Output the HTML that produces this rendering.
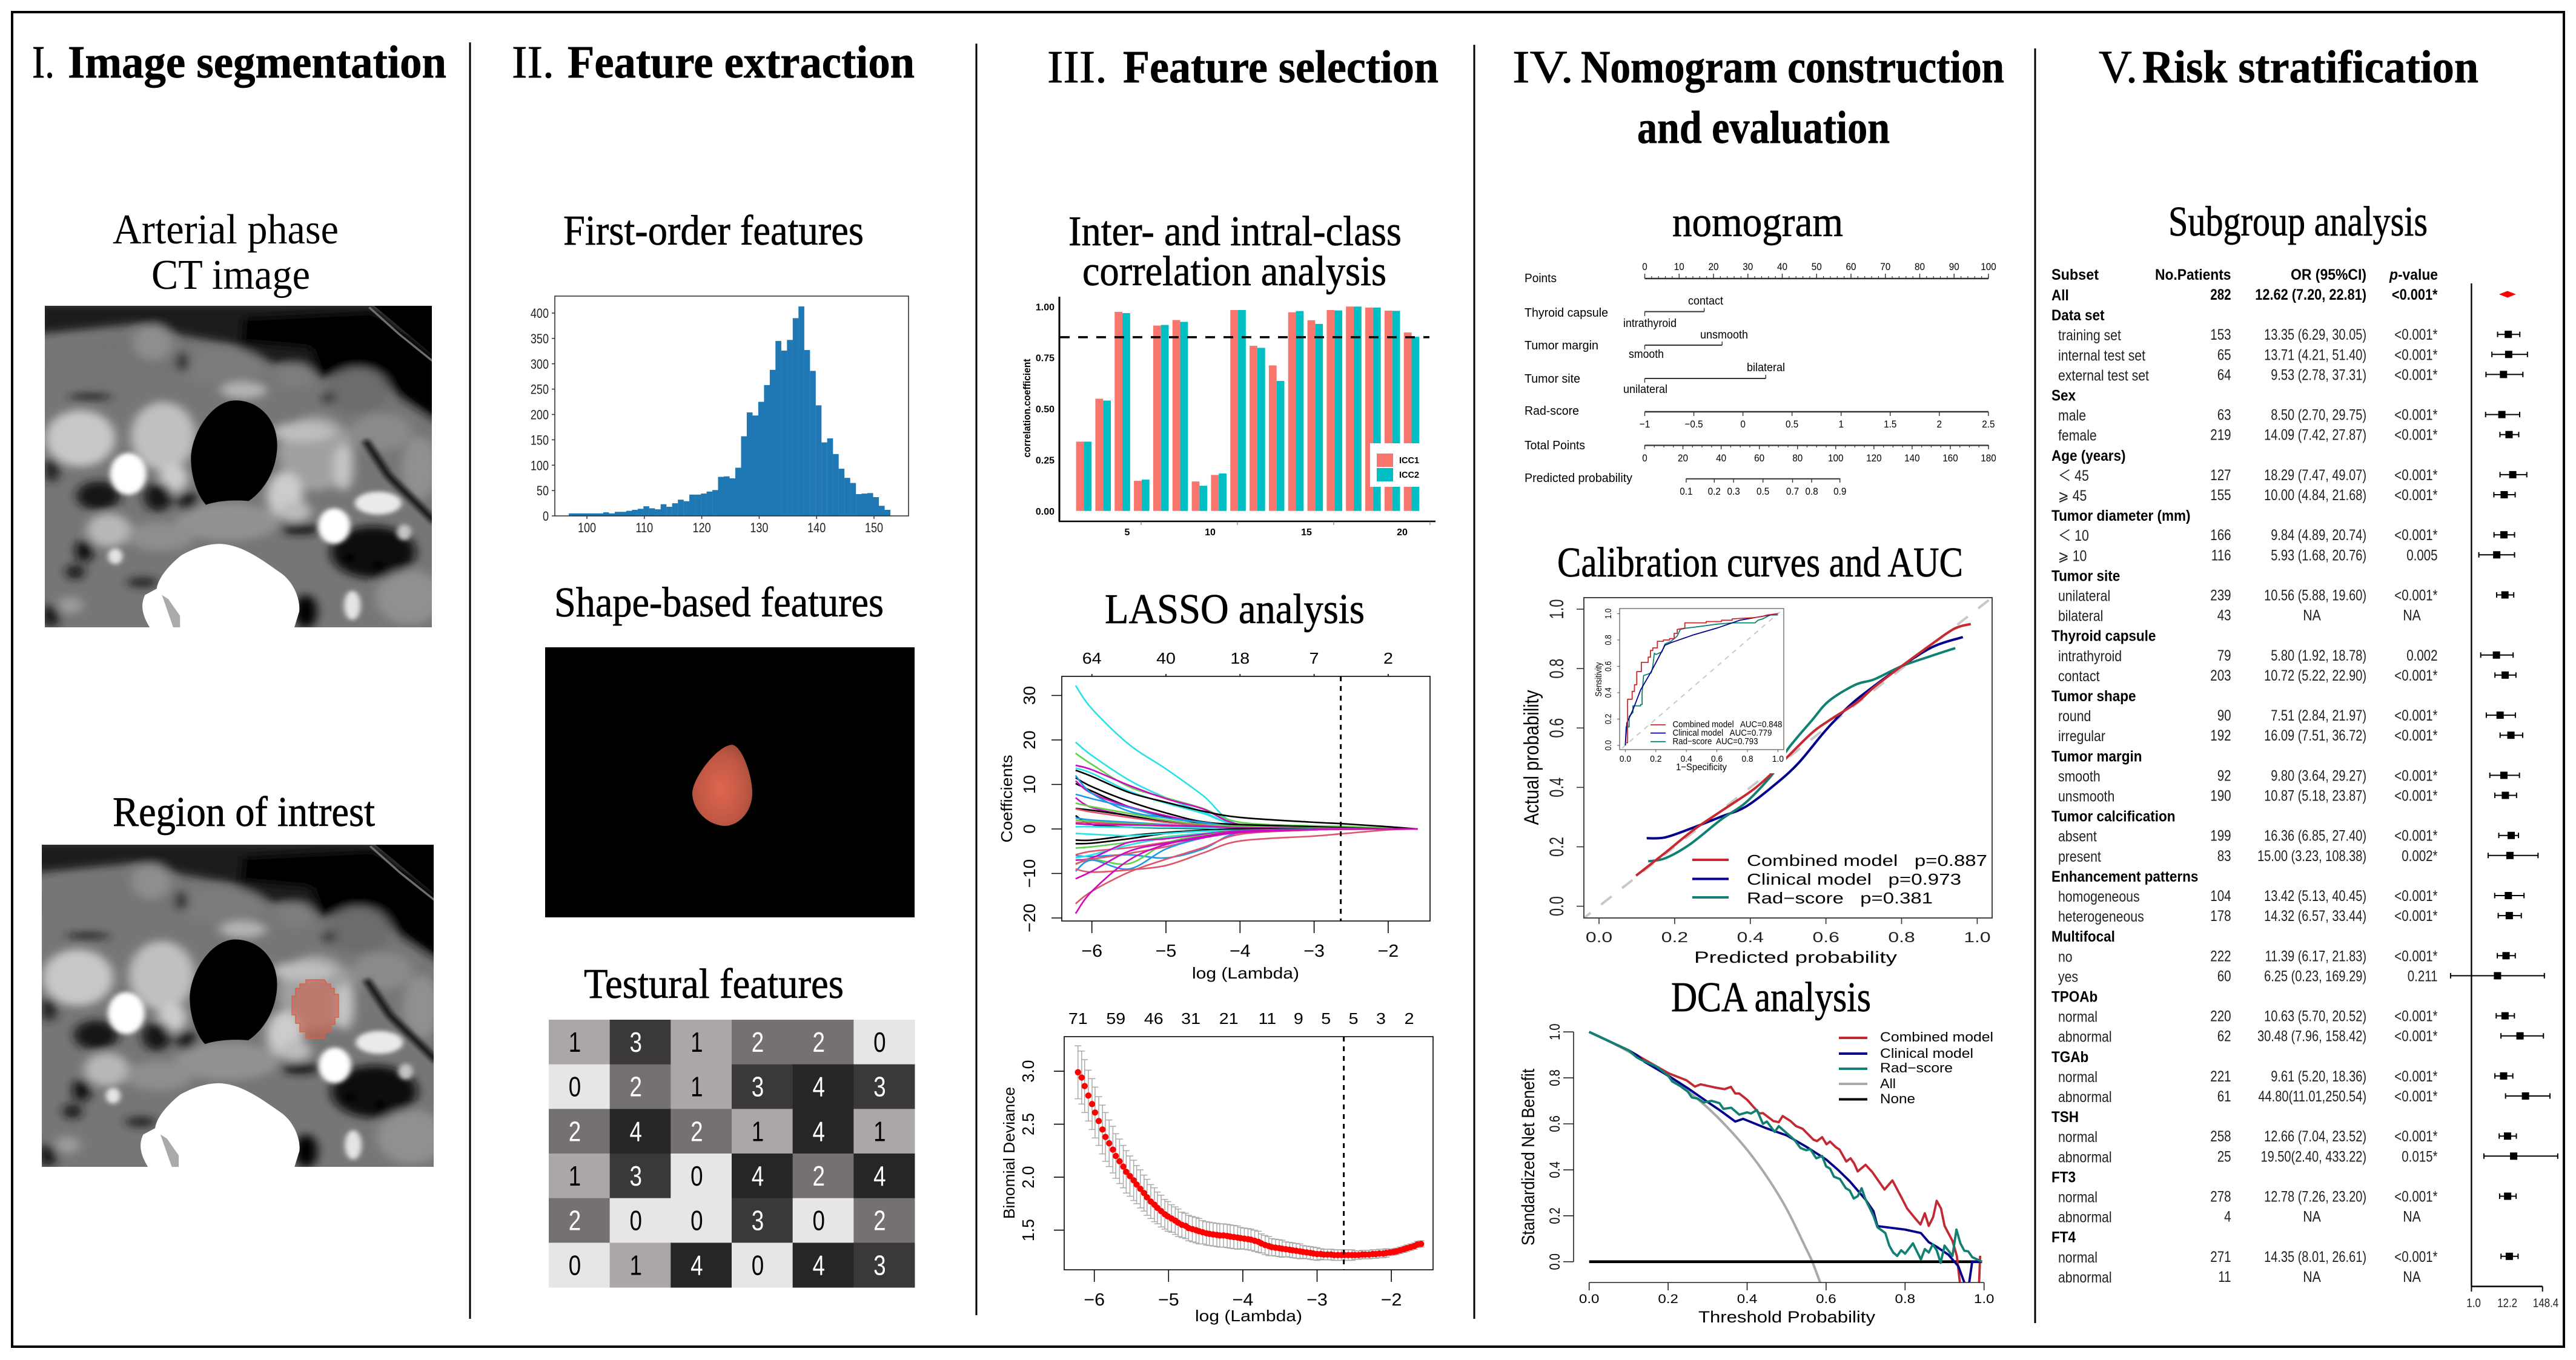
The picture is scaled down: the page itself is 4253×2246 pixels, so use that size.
<!DOCTYPE html>
<html lang="en">
<head>
<meta charset="utf-8">
<title>Radiomics workflow figure</title>
<style>
html,body{margin:0;padding:0;background:#fff;width:4253px;height:2246px;overflow:hidden}
svg{display:block}
text{font-family:"Liberation Sans","DejaVu Sans","Noto Sans CJK SC",sans-serif;fill:#000;white-space:pre}
.ttl{font-family:"Liberation Serif","Noto Serif CJK SC",serif;font-size:76px;stroke:#000;stroke-width:.7px}
.b{font-weight:700}
.sub{font-family:"Liberation Serif","Noto Serif CJK SC",serif;font-size:70px;stroke:#000;stroke-width:.7px}
.thin{stroke-width:0}
</style>
</head>
<body>
<svg id="figure" xmlns="http://www.w3.org/2000/svg" width="4253" height="2246" viewBox="0 0 4253 2246">
<defs>
<filter id="blurA" x="-20%" y="-20%" width="140%" height="140%"><feGaussianBlur stdDeviation="20"/></filter>
<filter id="blurB" x="-40%" y="-40%" width="180%" height="180%"><feGaussianBlur stdDeviation="10"/></filter>
<clipPath id="ctClip"><rect x="33" y="15" width="1494" height="1540"/></clipPath>
<radialGradient id="noduleFill" cx="0.48" cy="0.55" r="0.6"><stop offset="0" stop-color="#e0664e"/><stop offset="0.7" stop-color="#bd5743"/><stop offset="1" stop-color="#a04a38"/></radialGradient>
<clipPath id="calClip"><rect x="2615" y="987" width="674" height="529"/></clipPath>
<clipPath id="insetClip"><rect x="2674" y="1005" width="271" height="233"/></clipPath>
<clipPath id="dcaClip"><rect x="2600" y="1690" width="690" height="428"/></clipPath>
<g id="ctScan" clip-path="url(#ctClip)">
<rect x="33" y="15" width="1494" height="1540" fill="#767676"/>
<g filter="url(#blurA)">
<polygon points="0,0 1300,0 1560,260 1560,580 1400,450 1300,320 1100,350 1000,290 900,290 760,200 540,150 400,100 0,150" fill="#1e1e1e"/>
<polygon points="790,190 1060,220 1100,370 1170,330 1300,310 1420,450 1560,570 1560,250 1300,40 800,70" fill="#030303"/>
<ellipse cx="280" cy="290" rx="280" ry="105" fill="#747474"/>
<ellipse cx="450" cy="190" rx="75" ry="85" fill="#8e8e8e"/>
<ellipse cx="720" cy="305" rx="165" ry="85" fill="#7c7c7c"/>
<ellipse cx="1000" cy="350" rx="70" ry="60" fill="#7e7e7e"/>
<ellipse cx="1240" cy="420" rx="120" ry="110" fill="#6c6c6c"/>
<ellipse cx="565" cy="285" rx="22" ry="45" fill="#050505"/>
<ellipse cx="210" cy="450" rx="85" ry="16" fill="#222"/>
<ellipse cx="1130" cy="455" rx="18" ry="30" fill="#111"/>
<ellipse cx="170" cy="650" rx="135" ry="135" fill="#c8c8c8"/>
<ellipse cx="490" cy="640" rx="125" ry="165" fill="#c0c0c0"/>
<ellipse cx="530" cy="840" rx="55" ry="70" fill="#cccccc"/>
<ellipse cx="800" cy="420" rx="90" ry="40" fill="#b4b4b4"/>
<ellipse cx="1080" cy="720" rx="145" ry="180" fill="#a0a0a0"/>
<ellipse cx="1185" cy="790" rx="38" ry="110" fill="#c4c4c4"/>
<ellipse cx="1030" cy="620" rx="120" ry="48" fill="#bdbdbd"/>
<ellipse cx="960" cy="920" rx="70" ry="110" fill="#cccccc"/>
<ellipse cx="1000" cy="1000" rx="60" ry="50" fill="#bcbcbc"/>
<ellipse cx="1330" cy="620" rx="120" ry="90" fill="#8a8a8a"/>
<ellipse cx="1480" cy="790" rx="70" ry="150" fill="#909090"/>
<ellipse cx="60" cy="800" rx="30" ry="60" fill="#222"/>
<ellipse cx="240" cy="925" rx="85" ry="70" fill="#141414"/>
<ellipse cx="470" cy="930" rx="55" ry="70" fill="#141414"/>
<ellipse cx="585" cy="955" rx="35" ry="55" fill="#141414"/>
<ellipse cx="1020" cy="1085" rx="75" ry="26" fill="#141414"/>
<ellipse cx="1300" cy="1195" rx="165" ry="125" fill="#0c0c0c"/>
<ellipse cx="185" cy="1190" rx="34" ry="55" fill="#0c0c0c"/>
<ellipse cx="150" cy="1290" rx="36" ry="34" fill="#141414"/>
<ellipse cx="410" cy="1340" rx="60" ry="24" fill="#222"/>
<ellipse cx="55" cy="1500" rx="34" ry="55" fill="#141414"/>
<ellipse cx="1040" cy="1480" rx="44" ry="80" fill="#050505"/>
<ellipse cx="280" cy="1090" rx="85" ry="80" fill="#b8b8b8"/>
<ellipse cx="740" cy="1050" rx="200" ry="90" fill="#929292"/>
<ellipse cx="480" cy="1120" rx="130" ry="70" fill="#8e8e8e"/>
<ellipse cx="1440" cy="1410" rx="130" ry="130" fill="#909090"/>
<ellipse cx="130" cy="1450" rx="50" ry="40" fill="#9c9c9c"/>
</g>
<polyline points="1270,660 1360,830 1540,1050" fill="none" stroke="#111" stroke-width="26" filter="url(#blurB)"/>
<g filter="url(#blurB)">
<ellipse cx="355" cy="820" rx="70" ry="100" fill="#fff"/>
<ellipse cx="1150" cy="1070" rx="62" ry="85" fill="#fff"/>
<ellipse cx="1320" cy="960" rx="90" ry="55" fill="#eaeaea"/>
<ellipse cx="1420" cy="1100" rx="28" ry="38" fill="#c4c4c4"/>
<ellipse cx="305" cy="1215" rx="28" ry="38" fill="#e4e4e4"/>
<ellipse cx="1220" cy="1450" rx="32" ry="70" fill="#e4e4e4"/>
<ellipse cx="1210" cy="1222" rx="18" ry="18" fill="#000"/>
<ellipse cx="1320" cy="1255" rx="18" ry="18" fill="#000"/>
</g>
<polygon points="1300,10 1540,10 1540,260" fill="#000"/>
<polyline points="1285,22 1400,150 1530,280" fill="none" stroke="#6e6e6e" stroke-width="9"/>
<path d="M770,468 C860,468 930,560 930,680 C930,800 880,900 820,950 C780,945 710,945 655,968 C620,920 597,830 597,745 C600,620 680,468 770,468Z" fill="#000"/>
<path d="M710,1155 C800,1160 880,1240 950,1300 C1000,1350 1020,1430 1015,1480 L995,1560 L440,1560 C410,1500 400,1450 420,1400 L465,1370 C470,1320 510,1260 560,1210 C610,1175 660,1155 710,1155Z" fill="#fff"/>
<polygon points="485,1400 510,1420 555,1500 555,1560 530,1560" fill="#aaa"/>
</g>
</defs>

<rect width="4253" height="2246" fill="#fff"/>
<rect x="20" y="20" width="4213" height="2204" fill="none" stroke="#000" stroke-width="4"/>
<line x1="776" y1="70" x2="776" y2="2178" stroke="#000" stroke-width="3"/>
<line x1="1612" y1="72" x2="1612" y2="2172" stroke="#000" stroke-width="3"/>
<line x1="2434" y1="74" x2="2434" y2="2178" stroke="#000" stroke-width="3"/>
<line x1="3360" y1="80" x2="3360" y2="2185" stroke="#000" stroke-width="3"/>

<!-- column titles -->
<g>
<text class="ttl" x="53" y="128" textLength="37" lengthAdjust="spacingAndGlyphs">I.</text>
<text class="ttl b" x="112" y="128" textLength="625" lengthAdjust="spacingAndGlyphs">Image segmentation</text>
<text class="ttl" x="845" y="128" textLength="70" lengthAdjust="spacingAndGlyphs">II.</text>
<text class="ttl b" x="937" y="128" textLength="573" lengthAdjust="spacingAndGlyphs">Feature extraction</text>
<text class="ttl" x="1729" y="136" textLength="99" lengthAdjust="spacingAndGlyphs">III.</text>
<text class="ttl b" x="1854" y="136" textLength="521" lengthAdjust="spacingAndGlyphs">Feature selection</text>
<text class="ttl" x="2497" y="136" textLength="101" lengthAdjust="spacingAndGlyphs">IV.</text>
<text class="ttl b" x="2610" y="136" textLength="699" lengthAdjust="spacingAndGlyphs">Nomogram construction</text>
<text class="ttl b" x="2703" y="236" textLength="417" lengthAdjust="spacingAndGlyphs">and evaluation</text>
<text class="ttl" x="3465" y="136" textLength="64" lengthAdjust="spacingAndGlyphs">V.</text>
<text class="ttl b" x="3537" y="136" textLength="555" lengthAdjust="spacingAndGlyphs">Risk stratification</text>
</g>

<!-- column I -->
<g>
<text class="sub thin" x="186" y="402" textLength="373" lengthAdjust="spacingAndGlyphs">Arterial phase</text>
<text class="sub thin" x="250" y="477" textLength="262" lengthAdjust="spacingAndGlyphs">CT image</text>
<use href="#ctScan" transform="translate(74,505) scale(0.4277,0.3448) translate(-33,-15)"/>
<text class="sub" x="186" y="1364" textLength="433" lengthAdjust="spacingAndGlyphs">Region of intrest</text>
<use href="#ctScan" transform="translate(69,1395) scale(0.4331,0.3455) translate(-33,-15)"/>
<polygon points="505,1618 536,1618 540,1625 546,1625 546,1632 552,1632 552,1642 559,1642 559,1680 553,1680 553,1692 546,1692 546,1704 536,1704 536,1715 505,1715 505,1704 495,1704 495,1690 488,1690 488,1676 482,1676 482,1645 488,1645 488,1632 495,1632 495,1625 505,1625" fill="#cc5f4c" fill-opacity="0.62" stroke="#d8614a" stroke-width="1.5"/>
</g>

<!-- column II -->
<g>
<text class="sub" x="930" y="404" textLength="496" lengthAdjust="spacingAndGlyphs">First-order features</text>
<g id="histogram"></g>
<text class="sub" x="915" y="1018" textLength="544" lengthAdjust="spacingAndGlyphs">Shape-based features</text>
<rect x="900" y="1069" width="610" height="446" fill="#000"/>
<path d="M1209,1230 C1225,1232 1242,1280 1242,1310 C1242,1340 1220,1364 1196,1364 C1165,1362 1143,1335 1143,1310 C1143,1285 1185,1230 1209,1230Z" fill="url(#noduleFill)"/>
<text class="sub" x="964" y="1648" textLength="429" lengthAdjust="spacingAndGlyphs">Testural features</text>
<g id="textureGrid"></g>
</g>

<!-- column III -->
<g>
<text class="sub" x="1764" y="405" textLength="550" lengthAdjust="spacingAndGlyphs">Inter- and intral-class</text>
<text class="sub" x="1787" y="471" textLength="502" lengthAdjust="spacingAndGlyphs">correlation analysis</text>
<g id="iccChart">
<text transform="translate(1701,674) rotate(-90)" font-size="17" font-weight="700" text-anchor="middle" textLength="163" lengthAdjust="spacingAndGlyphs">correlation.coefficient</text>
</g>
<text class="sub" x="1824" y="1029" textLength="429" lengthAdjust="spacingAndGlyphs">LASSO analysis</text>
<g id="lassoPath">
<text transform="translate(1671,1319) rotate(-90)" font-size="26" text-anchor="middle" textLength="145" lengthAdjust="spacingAndGlyphs">Coefficients</text>
<text x="1968" y="1616" font-size="26" textLength="177" lengthAdjust="spacingAndGlyphs">log (Lambda)</text>
</g>
<g id="lassoCv">
<text transform="translate(1675,1904) rotate(-90)" font-size="26" text-anchor="middle" textLength="218" lengthAdjust="spacingAndGlyphs">Binomial Deviance</text>
<text x="1973" y="2182" font-size="26" textLength="177" lengthAdjust="spacingAndGlyphs">log (Lambda)</text>
</g>
</g>

<!-- column IV -->
<g>
<text class="sub" x="2761" y="390" textLength="282" lengthAdjust="spacingAndGlyphs">nomogram</text>
<g id="nomogram">
<text x="2517" y="466" font-size="20" textLength="53" lengthAdjust="spacingAndGlyphs">Points</text>
<text x="2517" y="523" font-size="20" textLength="138" lengthAdjust="spacingAndGlyphs">Thyroid capsule</text>
<text x="2517" y="577" font-size="20" textLength="122" lengthAdjust="spacingAndGlyphs">Tumor margin</text>
<text x="2517" y="632" font-size="20" textLength="92" lengthAdjust="spacingAndGlyphs">Tumor site</text>
<text x="2517" y="685" font-size="20" textLength="90" lengthAdjust="spacingAndGlyphs">Rad-score</text>
<text x="2517" y="742" font-size="20" textLength="100" lengthAdjust="spacingAndGlyphs">Total Points</text>
<text x="2517" y="796" font-size="20" textLength="178" lengthAdjust="spacingAndGlyphs">Predicted probability</text>
<text x="2787" y="503" font-size="19" textLength="58" lengthAdjust="spacingAndGlyphs">contact</text>
<text x="2680" y="540" font-size="19" textLength="88" lengthAdjust="spacingAndGlyphs">intrathyroid</text>
<text x="2807" y="559" font-size="19" textLength="79" lengthAdjust="spacingAndGlyphs">unsmooth</text>
<text x="2689" y="591" font-size="19" textLength="58" lengthAdjust="spacingAndGlyphs">smooth</text>
<text x="2884" y="613" font-size="19" textLength="63" lengthAdjust="spacingAndGlyphs">bilateral</text>
<text x="2680" y="649" font-size="19" textLength="73" lengthAdjust="spacingAndGlyphs">unilateral</text>
</g>

<text class="sub" x="2571" y="952" textLength="670" lengthAdjust="spacingAndGlyphs">Calibration curves and AUC</text>
<g id="calMain"></g>
<rect x="2618" y="990" width="331" height="287" fill="#fff"/>
<rect x="2615" y="987" width="674" height="529" fill="none" stroke="#444" stroke-width="2"/>
<g id="calAxes">
<text x="2797" y="1590" font-size="27" textLength="335" lengthAdjust="spacingAndGlyphs">Predicted probability</text>
<text transform="translate(2540,1251) rotate(-90)" font-size="34" text-anchor="middle" textLength="223" lengthAdjust="spacingAndGlyphs">Actual probability</text>
</g>
<g id="calLegend">
<line x1="2794" y1="1420" x2="2854" y2="1420" stroke="#c8282f" stroke-width="4"/>
<line x1="2794" y1="1451.5" x2="2854" y2="1451.5" stroke="#00008b" stroke-width="4"/>
<line x1="2794" y1="1482" x2="2854" y2="1482" stroke="#0f8072" stroke-width="4"/>
<text x="2884" y="1430" font-size="26" textLength="397" lengthAdjust="spacingAndGlyphs">Combined model   p=0.887</text>
<text x="2884" y="1461" font-size="26" textLength="354" lengthAdjust="spacingAndGlyphs">Clinical model   p=0.973</text>
<text x="2884" y="1492" font-size="26" textLength="307" lengthAdjust="spacingAndGlyphs">Rad−score   p=0.381</text>
</g>
<g id="rocInset">
<text x="2767" y="1272" font-size="16" textLength="84" lengthAdjust="spacingAndGlyphs">1−Specificity</text>
<text transform="translate(2644,1122) rotate(-90)" font-size="15" text-anchor="middle" textLength="57" lengthAdjust="spacingAndGlyphs">Sensitivity</text>
</g>

<text class="sub" x="2759" y="1670" textLength="330" lengthAdjust="spacingAndGlyphs">DCA analysis</text>
<g id="dca">
<text transform="translate(2533,1911) rotate(-90)" font-size="30" text-anchor="middle" textLength="292" lengthAdjust="spacingAndGlyphs">Standardized Net Benefit</text>
<text x="2804" y="2184" font-size="27" textLength="292" lengthAdjust="spacingAndGlyphs">Threshold Probability</text>
<line x1="3036" y1="1714" x2="3083" y2="1714" stroke="#c22a33" stroke-width="4"/>
<line x1="3036" y1="1740" x2="3083" y2="1740" stroke="#00008b" stroke-width="4"/>
<line x1="3036" y1="1765" x2="3083" y2="1765" stroke="#0f8072" stroke-width="4"/>
<line x1="3036" y1="1790" x2="3083" y2="1790" stroke="#a9a9a9" stroke-width="4"/>
<line x1="3036" y1="1815.5" x2="3083" y2="1815.5" stroke="#000" stroke-width="4"/>
<text x="3104" y="1720" font-size="22" textLength="187" lengthAdjust="spacingAndGlyphs">Combined model</text>
<text x="3104" y="1747" font-size="22" textLength="154" lengthAdjust="spacingAndGlyphs">Clinical model</text>
<text x="3104" y="1771" font-size="22" textLength="120" lengthAdjust="spacingAndGlyphs">Rad−score</text>
<text x="3104" y="1797" font-size="22" textLength="26" lengthAdjust="spacingAndGlyphs">All</text>
<text x="3104" y="1822" font-size="22" textLength="58" lengthAdjust="spacingAndGlyphs">None</text>
</g>
</g>

<!-- column V -->
<g>
<text class="sub" x="3580" y="389" textLength="428" lengthAdjust="spacingAndGlyphs">Subgroup analysis</text>
<g id="forest">
<text x="3387" y="462" font-size="25" font-weight="700" textLength="78" lengthAdjust="spacingAndGlyphs">Subset</text>
<text x="3558" y="462" font-size="25" font-weight="700" textLength="125.5" lengthAdjust="spacingAndGlyphs">No.Patients</text>
<text x="3782" y="462" font-size="25" font-weight="700" textLength="125" lengthAdjust="spacingAndGlyphs">OR (95%CI)</text>
<text x="3945" y="462" font-size="25" font-weight="700" textLength="80" lengthAdjust="spacingAndGlyphs"><tspan font-style="italic">p</tspan>-value</text>
</g>
</g>
</svg>

<script>
/* ---------- chart data ---------- */
const histBins=[97,98,99,100,101,102,103,104,105,106,107,108,109,110,111,112,113,114,115,116,117,118,119,120,121,122,123,124,125,126,127,128,129,130,131,132,133,134,135,136,137,138,139,140,141,142,143,144,145,146,147,148,149,150,151,152];
const histCounts=[5,5,5,5,5,5,7,5,8,8,10,12,14,19,15,13,23,18,25,32,29,42,42,44,48,51,77,78,74,95,157,204,198,225,258,288,345,326,347,390,413,327,286,218,145,153,122,93,75,65,43,44,45,37,20,12];
const histXTicks=[100,110,120,130,140,150];
const histYTicks=[0,50,100,150,200,250,300,350,400];

const textureLevels=[[1,3,1,2,2,0],[0,2,1,3,4,3],[2,4,2,1,4,1],[1,3,0,4,2,4],[2,0,0,3,0,2],[0,1,4,0,4,3]];

const iccCategories=[1,2,3,4,5,6,7,8,9,10,11,12,13,14,15,16,17,18];
const icc1Values=[.339,.549,.974,.147,.907,.934,.144,.176,.983,.808,.712,.972,.933,.983,1.0,.995,.980,.873];
const icc2Values=[.339,.540,.968,.153,.910,.925,.123,.183,.983,.798,.636,.978,.915,.981,1.0,.995,.979,.852];
const iccYTicks=[0,.25,.5,.75,1];
const iccThreshold=0.85;
const iccXTickLabels=["5","10","15","20"];

const lassoKnots=[-6.22,-6.0,-5.5,-5.0,-4.5,-4.0,-3.0,-2.64,-2.0,-1.6];
const lassoColorIndex=[4,4,2,5,4,0,0,0,5,3,3,5,2,0,1,0,3,2,1,4,5,0,0,4,2,3,1,4,5,2,1,3,1,5,1,5];
const lassoCoefficients=[
[32.2,27,19,13.5,7.5,.8,.2,.1,0,0],
[19.5,16.5,11,7,3.8,.9,.3,.1,0,0],
[17,14.5,9.5,7,4.6,1.5,.7,.6,.2,0],
[14.3,13.3,9.8,6.8,4.5,1,.3,.2,0,0],
[13.7,12.5,8.5,5.8,3.5,.8,.2,.1,0,0],
[13.2,11.8,8.2,6,4,2.6,1.5,1.2,.5,0],
[11.5,9.5,6.2,3.6,1.6,1,.5,.3,0,0],
[10.2,8.5,5,2.8,1.2,.7,.3,.2,0,0],
[10.8,8,5,3,1.3,.6,.2,.1,0,0],
[12,8,4,2.5,1.5,.5,.1,0,0,0],
[7.8,6.8,4.8,2.5,1.4,.5,.1,0,0,0],
[7,4.8,3,1.5,.9,.3,0,0,0,0],
[5.8,5,3.5,2,1,.6,.2,.1,0,0],
[4.6,4.2,3,1.6,.7,.2,0,0,0,0],
[4.5,3.8,2.6,1.5,.8,.2,0,0,0,0],
[3,1,.4,.2,.1,0,0,0,0,0],
[2.5,2,1.5,1,.5,.2,0,0,0,0],
[2,1.7,1.2,.9,.6,.3,.1,0,0,0],
[1.5,1.4,1,.7,.5,.2,0,0,0,0],
[.5,.5,.4,.3,.2,.1,0,0,0,0],
[1.2,1,.9,.8,.6,.3,.1,0,0,0],
[-2.5,-2.5,-1.5,-.8,-.3,0,0,0,0,0],
[-3.3,-3.2,-2.2,-1,-.4,0,0,0,0,0],
[-1,-1.2,-1.5,-1,-.5,-.3,0,0,0,0],
[-4.3,-4,-3,-1.8,-1,-.4,-.1,0,0,0],
[-6,-6.2,-5.8,-6.5,-4.5,-.8,-.2,-.1,0,0],
[-5.8,-5,-4.2,-3,-1.8,-.8,-.2,-.1,0,0],
[-6.5,-5.8,-3.6,-2,-1,-.5,-.2,0,0,0],
[-7,-6.5,-3,-2.2,-1.2,-.4,-.1,0,0,0],
[-8,-6.8,-7.8,-3.2,-1.5,-.5,-.1,0,0,0],
[-7.8,-6.8,-5.5,-4,-2,-.5,-.1,0,0,0],
[-9.5,-7,-9,-4.5,-2,-.5,-.1,0,0,0],
[-9,-9.7,-9.2,-8.2,-5.4,-2.7,-1.6,-1.1,-.2,0],
[-11.2,-9.5,-5,-3.2,-1.7,-.5,-.1,0,0,0],
[-16.8,-14,-9.7,-6.8,-4.2,-1.2,-.2,0,0,0],
[-19,-14,-7,-3.5,-2,-.8,-.1,0,0,0]];
const lassoPathXTicks=[-6,-5,-4,-3,-2];
const lassoPathYTicks=[-20,-10,0,10,20,30];
const lassoPathTopLabels=["64","40","18","7","2"];
const lassoOptimalLambda=-2.64;

const cvLambda=[-6.22,-6.17,-6.13,-6.08,-6.03,-5.99,-5.94,-5.89,-5.85,-5.80,-5.75,-5.71,-5.66,-5.61,-5.57,-5.52,-5.47,-5.43,-5.38,-5.33,-5.29,-5.24,-5.19,-5.15,-5.10,-5.05,-5.01,-4.96,-4.91,-4.87,-4.82,-4.77,-4.73,-4.68,-4.63,-4.59,-4.54,-4.49,-4.45,-4.40,-4.35,-4.31,-4.26,-4.21,-4.17,-4.12,-4.07,-4.03,-3.98,-3.93,-3.89,-3.84,-3.79,-3.75,-3.70,-3.65,-3.61,-3.56,-3.51,-3.47,-3.42,-3.37,-3.33,-3.28,-3.23,-3.19,-3.14,-3.09,-3.05,-3.00,-2.95,-2.91,-2.86,-2.81,-2.77,-2.72,-2.67,-2.63,-2.58,-2.53,-2.49,-2.44,-2.39,-2.35,-2.30,-2.25,-2.21,-2.16,-2.11,-2.07,-2.02,-1.97,-1.93,-1.88,-1.83,-1.79,-1.74,-1.69,-1.65,-1.60];
const cvDeviance=[2.99,2.94,2.86,2.77,2.69,2.61,2.53,2.45,2.38,2.32,2.26,2.20,2.15,2.10,2.05,2.01,1.97,1.93,1.89,1.85,1.81,1.77,1.74,1.71,1.68,1.65,1.63,1.61,1.59,1.57,1.55,1.54,1.52,1.51,1.50,1.49,1.48,1.47,1.465,1.46,1.455,1.45,1.45,1.445,1.44,1.435,1.43,1.425,1.42,1.415,1.41,1.40,1.39,1.375,1.36,1.35,1.34,1.335,1.33,1.325,1.32,1.315,1.31,1.305,1.30,1.295,1.29,1.285,1.28,1.275,1.275,1.27,1.27,1.27,1.265,1.265,1.265,1.265,1.265,1.265,1.265,1.265,1.27,1.27,1.27,1.275,1.275,1.28,1.28,1.285,1.29,1.295,1.30,1.31,1.32,1.33,1.34,1.35,1.365,1.37];
const cvStdErr=[.25,.25,.25,.24,.24,.24,.23,.23,.23,.22,.22,.21,.21,.2,.2,.19,.19,.18,.18,.17,.17,.16,.16,.15,.15,.14,.14,.13,.13,.13,.12,.12,.12,.12,.12,.12,.11,.11,.11,.11,.11,.11,.11,.11,.11,.11,.11,.10,.10,.10,.10,.10,.10,.09,.09,.09,.08,.08,.08,.08,.07,.07,.07,.07,.07,.06,.06,.06,.06,.06,.05,.05,.05,.05,.05,.05,.05,.05,.05,.05,.04,.04,.04,.04,.04,.04,.04,.04,.04,.04,.03,.03,.03,.03,.03,.03,.03,.03,.03,.03];
const cvXTicks=[-6,-5,-4,-3,-2];
const cvYTicks=[1.5,2,2.5,3];
const cvTopLambda=[-6.22,-5.71,-5.2,-4.7,-4.19,-3.67,-3.25,-2.88,-2.51,-2.14,-1.76];
const cvTopLabels=["71","59","46","31","21","11","9","5","5","3","2"];

const nomoPointTicks=[0,10,20,30,40,50,60,70,80,90,100];
const nomoPointMinor=[0,2,4,6,8,10,12,14,16,18,20,22,24,26,28,30,32,34,36,38,40,42,44,46,48,50,52,54,56,58,60,62,64,66,68,70,72,74,76,78,80,82,84,86,88,90,92,94,96,98,100];
const nomoFactorPoints=[17.3,22.5,35.2];
const nomoRadScores=[-1,-.5,0,.5,1,1.5,2,2.5];
const nomoRadLabels=["−1","−0.5","0","0.5","1","1.5","2","2.5"];
const nomoTotalTicks=[0,20,40,60,80,100,120,140,160,180];
const nomoTotalMinor=[0,5,10,15,20,25,30,35,40,45,50,55,60,65,70,75,80,85,90,95,100,105,110,115,120,125,130,135,140,145,150,155,160,165,170,175,180];
const nomoProbLabels=["0.1","0.2","0.3","0.5","0.7","0.8","0.9"];
const nomoProbTotals=[21.7,36.4,46.5,61.9,77.4,87.4,102.2];

const calTicks=[0,.2,.4,.6,.8,1];
const calCombinedX=[.098,.176,.25,.324,.406,.461,.494,.5625,.608,.682,.728,.80,.875,.939,.983];
const calCombinedY=[.103,.181,.257,.321,.391,.452,.497,.583,.625,.686,.738,.808,.878,.934,.950];
const calClinicalX=[.126,.176,.25,.324,.388,.461,.526,.60,.664,.719,.80,.884,.962];
const calClinicalY=[.229,.232,.265,.302,.335,.405,.48,.593,.677,.733,.808,.874,.906];
const calRadX=[.13,.176,.241,.324,.388,.461,.498,.5625,.608,.677,.728,.80,.875,.942];
const calRadY=[.151,.162,.209,.293,.349,.448,.527,.625,.691,.745,.764,.808,.841,.869];

const rocTicks=[0,.2,.4,.6,.8,1];
const rocCombinedX=[0,.015,.015,.045,.045,.06,.06,.075,.075,.105,.105,.15,.15,.165,.165,.18,.18,.21,.21,.25,.25,.29,.29,.32,.32,.34,.34,.39,.39,.53,.53,.63,.63,.7,.7,.85,.9,.93,1];
const rocCombinedY=[.02,.02,.35,.35,.41,.41,.46,.46,.56,.56,.63,.63,.67,.67,.72,.72,.74,.74,.79,.79,.80,.80,.81,.81,.85,.85,.88,.89,.93,.93,.94,.94,.95,.95,.96,.97,.98,.99,1];
const rocClinicalX=[0,.01,.05,.1,.17,.26,.3,.45,.6,.75,.9,1];
const rocClinicalY=[0,.17,.27,.42,.56,.76,.78,.84,.89,.95,.98,1];
const rocRadX=[0,.005,.025,.025,.05,.05,.1,.1,.11,.11,.12,.17,.18,.19,.2,.24,.26,.3,.34,.36,.4,.47,.6,.7,.85,.87,.9,.95,1];
const rocRadY=[0,.14,.14,.22,.25,.30,.30,.31,.31,.40,.53,.55,.60,.70,.69,.71,.77,.79,.83,.88,.89,.90,.92,.93,.93,.95,.96,.99,.99];

const dcaXTicks=[0,.2,.4,.6,.8,1];
const dcaYTicks=[0,.2,.4,.6,.8,1];
const dcaAllX=[0,.05,.1,.15,.2,.25,.3,.35,.4,.45,.5,.55,.565,.585];
const dcaAllY=[1,.96,.914,.864,.808,.743,.67,.585,.487,.37,.23,.055,0,-.09];
const dcaCombinedX=[0,.1,.15,.2025,.246,.268,.282,.317,.343,.359,.37,.38,.40,.431,.44,.4665,.48,.49,.51,.524,.541,.568,.577,.59,.601,.61,.625,.634,.651,.662,.671,.68,.70,.717,.748,.768,.792,.805,.823,.839,.85,.86,.871,.88,.891,.90,.92,.931,.946,.985,.99];
const dcaCombinedY=[1,.92,.87,.819,.79,.762,.772,.759,.751,.761,.732,.732,.705,.645,.647,.612,.607,.634,.612,.59,.578,.531,.525,.542,.511,.523,.498,.488,.436,.45,.428,.393,.422,.39,.314,.354,.276,.232,.194,.162,.211,.156,.194,.265,.232,.156,.091,.026,-.2,-.2,.026];
const dcaClinicalX=[0,.1,.12,.14,.2,.25,.3,.33,.37,.39,.45,.5,.55,.6,.63,.66,.7,.72,.73,.8,.84,.86,.88,.91,.935,.95,.96,.97,.995];
const dcaClinicalY=[1,.92,.9,.87,.81,.755,.695,.66,.61,.622,.58,.55,.5,.445,.40,.35,.27,.22,.155,.14,.125,.085,.065,.03,-.02,-.09,-.12,0,0];
const dcaRadX=[0,.1,.12,.13,.17,.2,.21,.23,.25,.26,.275,.29,.31,.33,.34,.36,.38,.4,.41,.425,.44,.45,.47,.48,.5,.52,.535,.55,.56,.575,.59,.6,.61,.62,.635,.65,.66,.67,.68,.69,.7,.72,.73,.75,.76,.77,.78,.79,.8,.82,.84,.85,.86,.87,.88,.89,.9,.92,.93,.94,.95,.96,.97,.995];
const dcaRadY=[1,.92,.89,.88,.85,.81,.785,.765,.74,.715,.71,.693,.70,.69,.665,.67,.64,.65,.645,.66,.6,.61,.565,.59,.56,.53,.495,.485,.49,.45,.46,.415,.405,.37,.36,.32,.31,.275,.285,.32,.27,.2,.15,.125,.07,.04,.025,.05,.035,.08,.01,.055,.04,.075,.05,-.005,.07,.025,.14,.08,.048,.045,.02,0];

const subgroupLabels=["All","Data set","training set","internal test set","external test set","Sex","male","female","Age (years)","＜ 45","⩾ 45","Tumor diameter (mm)","＜ 10","⩾ 10","Tumor site","unilateral","bilateral","Thyroid capsule","intrathyroid","contact","Tumor shape","round","irregular","Tumor margin","smooth","unsmooth","Tumor calcification","absent","present","Enhancement patterns","homogeneous","heterogeneous","Multifocal","no","yes","TPOAb","normal","abnormal","TGAb","normal","abnormal","TSH","normal","abnormal","FT3","normal","abnormal","FT4","normal","abnormal"];
const subgroupCounts=["282","","153","65","64","","63","219","","127","155","","166","116","","239","43","","79","203","","90","192","","92","190","","199","83","","104","178","","222","60","","220","62","","221","61","","258","25","","278","4","","271","11"];
const subgroupOrText=["12.62 (7.20, 22.81)","","13.35 (6.29, 30.05)","13.71 (4.21, 51.40)","9.53 (2.78, 37.31)","","8.50 (2.70, 29.75)","14.09 (7.42, 27.87)","","18.29 (7.47, 49.07)","10.00 (4.84, 21.68)","","9.84 (4.89, 20.74)","5.93 (1.68, 20.76)","","10.56 (5.88, 19.60)","NA","","5.80 (1.92, 18.78)","10.72 (5.22, 22.90)","","7.51 (2.84, 21.97)","16.09 (7.51, 36.72)","","9.80 (3.64, 29.27)","10.87 (5.18, 23.87)","","16.36 (6.85, 27.40)","15.00 (3.23, 108.38)","","13.42 (5.13, 40.45)","14.32 (6.57, 33.44)","","11.39 (6.17, 21.83)","6.25 (0.23, 169.29)","","10.63 (5.70, 20.52)","30.48 (7.96, 158.42)","","9.61 (5.20, 18.36)","44.80(11.01,250.54)","","12.66 (7.04, 23.52)","19.50(2.40, 433.22)","","12.78 (7.26, 23.20)","NA","","14.35 (8.01, 26.61)","NA"];
const subgroupPText=["<0.001*","","<0.001*","<0.001*","<0.001*","","<0.001*","<0.001*","","<0.001*","<0.001*","","<0.001*","0.005","","<0.001*","NA","","0.002","<0.001*","","<0.001*","<0.001*","","<0.001*","<0.001*","","<0.001*","0.002*","","<0.001*","<0.001*","","<0.001*","0.211","","<0.001*","<0.001*","","<0.001*","<0.001*","","<0.001*","0.015*","","<0.001*","NA","","<0.001*","NA"];
const subgroupOr=[12.62,null,13.35,13.71,9.53,null,8.50,14.09,null,18.29,10.00,null,9.84,5.93,null,10.56,null,null,5.80,10.72,null,7.51,16.09,null,9.80,10.87,null,16.36,15.00,null,13.42,14.32,null,11.39,6.25,null,10.63,30.48,null,9.61,44.80,null,12.66,19.50,null,12.78,null,null,14.35,null];
const subgroupLow=[7.20,null,6.29,4.21,2.78,null,2.70,7.42,null,7.47,4.84,null,4.89,1.68,null,5.88,null,null,1.92,5.22,null,2.84,7.51,null,3.64,5.18,null,6.85,3.23,null,5.13,6.57,null,6.17,0.23,null,5.70,7.96,null,5.20,11.01,null,7.04,2.40,null,7.26,null,null,8.01,null];
const subgroupHigh=[22.81,null,30.05,51.40,37.31,null,29.75,27.87,null,49.07,21.68,null,20.74,20.76,null,19.60,null,null,18.78,22.90,null,21.97,36.72,null,29.27,23.87,null,27.40,108.38,null,40.45,33.44,null,21.83,169.29,null,20.52,158.42,null,18.36,250.54,null,23.52,433.22,null,23.20,null,null,26.61,null];
const forestTicks=[1.0,12.2,148.4];
const forestTickLabels=["1.0","12.2","148.4"];

/* ---------- helpers ---------- */
const NS='http://www.w3.org/2000/svg';
function mk(tag,name,attrs,parent){
  const el=document.createElementNS(NS,tag);
  
  
  for(const k in attrs){el.setAttribute(k,attrs[k]);}
  parent.appendChild(el);
  return el;
}
function ln(name,x1,y1,x2,y2,color,width,parent,extra){
  return mk('line',name,Object.assign({x1:x1,y1:y1,x2:x2,y2:y2,stroke:color,'stroke-width':width},extra||{}),parent);
}
function tx(name,x,y,str,size,parent,o){
  o=o||{};
  const a={'font-size':size,'text-anchor':o.anchor||'start',transform:'translate('+x+','+y+') rotate('+(o.rot||0)+') scale('+(o.sx||1)+',1)'};
  if(o.weight)a['font-weight']=o.weight;
  const t=mk('text',name,a,parent);
  if(o.fill)t.style.fill=o.fill;
  t.textContent=str;
  return t;
}
function linePath(xs,ys,fx,fy){
  return xs.map((v,i)=>(i?'L':'M')+fx(v).toFixed(1)+','+fy(ys[i]).toFixed(1)).join('');
}
function smoothPath(xs,ys,fx,fy){
  const p=xs.map((v,i)=>[fx(v),fy(ys[i])]);
  let d='M'+p[0][0].toFixed(1)+','+p[0][1].toFixed(1);
  for(let i=0;i<p.length-1;i++){
    const p0=p[i-1]||p[i],p1=p[i],p2=p[i+1],p3=p[i+2]||p2;
    d+='C'+(p1[0]+(p2[0]-p0[0])/6).toFixed(1)+','+(p1[1]+(p2[1]-p0[1])/6).toFixed(1)+' '+(p2[0]-(p3[0]-p1[0])/6).toFixed(1)+','+(p2[1]-(p3[1]-p1[1])/6).toFixed(1)+' '+p2[0].toFixed(1)+','+p2[1].toFixed(1);
  }
  return d;
}
function curve(name,d,color,width,parent,extra){
  return mk('path',name,Object.assign({d:d,fill:'none',stroke:color,'stroke-width':width,'stroke-linejoin':'round'},extra||{}),parent);
}

/* ---------- histogram ---------- */
(function(){
  const g=document.getElementById('histogram');
  const x=v=>967.5+(v-100)*9.48, y=v=>852-v*0.8375;
  histBins.forEach((b,i)=>{
    mk('rect','histogram-bar',{x:x(b).toFixed(1),y:y(histCounts[i]).toFixed(1),width:9.6,height:(852-y(histCounts[i])).toFixed(1),fill:'#1f77b4'},g);
  });
  mk('rect','histogram-frame',{x:916,y:489,width:584,height:363,fill:'none',stroke:'#333','stroke-width':1.6},g);
  histXTicks.forEach(v=>{
    ln('histogram-x-tick',x(v)+1.5,852,x(v)+1.5,857,'#333',1.5,g);
    tx('histogram-x-label',x(v)+1.5,879,String(v),22,g,{anchor:'middle',sx:.82,fill:'#222'});
  });
  histYTicks.forEach(v=>{
    ln('histogram-y-tick',911,y(v),916,y(v),'#333',1.5,g);
    tx('histogram-y-label',906,y(v)+8,String(v),22,g,{anchor:'end',sx:.82,fill:'#222'});
  });
})();

/* ---------- texture grid ---------- */
(function(){
  const g=document.getElementById('textureGrid');
  const shades=['#e6e6e6','#aba7a7','#767171','#3b3838','#262626'];
  const cw=604/6, ch=442/6;
  textureLevels.forEach((row,r)=>row.forEach((v,c)=>{
    mk('rect','texture-cell',{x:906+c*cw,y:1684+r*ch,width:cw+.5,height:ch+.5,fill:shades[v]},g);
    tx('texture-cell-value',906+c*cw+43,1684+r*ch+53,String(v),46,g,{anchor:'middle',sx:.8,fill:v>=2?'#fff':'#000'});
  }));
})();

/* ---------- ICC bars ---------- */
(function(){
  const g=document.getElementById('iccChart');
  const y=v=>843.75-v*337.5, x=i=>1776.6+(i-1)*31.83;
  iccCategories.forEach((c,i)=>{
    mk('rect','bar-icc1',{x:x(c),y:y(icc1Values[i]),width:12.8,height:843.75-y(icc1Values[i]),fill:'#F8766D'},g);
    mk('rect','bar-icc2',{x:x(c)+12.8,y:y(icc2Values[i]),width:12.8,height:843.75-y(icc2Values[i]),fill:'#00BFC4'},g);
  });
  ln('icc-threshold-line',1750,y(iccThreshold),2360,y(iccThreshold),'#000',3.5,g,{'stroke-dasharray':'16 14'});
  ln('icc-y-axis',1749,490,1749,861,'#000',3,g);
  ln('icc-x-axis',1748,861,2370,861,'#000',2.5,g);
  iccYTicks.forEach(v=>{
    tx('icc-y-label',1741,y(v)+6,v.toFixed(2),16,g,{anchor:'end',weight:700});
  });
  iccXTickLabels.forEach((l,i)=>{
    ln('icc-x-tick',1884+i*159,861,1884+i*159,867,'#666',1,g);
    tx('icc-x-label',[1861,1998,2157,2315][i],884,l,16,g,{anchor:'middle',weight:700});
  });
  mk('rect','icc-legend-background',{x:2262,y:732,width:86,height:72,fill:'#fff'},g);
  mk('rect','icc-legend-swatch-1',{x:2273,y:749,width:27,height:22,fill:'#F8766D'},g);
  mk('rect','icc-legend-swatch-2',{x:2273,y:773,width:27,height:22,fill:'#00BFC4'},g);
  tx('icc-legend-label-1',2310,765,'ICC1',14.5,g,{weight:700});
  tx('icc-legend-label-2',2310,789,'ICC2',14.5,g,{weight:700});
})();

/* ---------- LASSO coefficient paths ---------- */
(function(){
  const g=document.getElementById('lassoPath');
  const palette=['#000000','#DF536B','#61D04F','#2297E6','#28E2E5','#CD0BBC'];
  const x=v=>1802.7+(v+6)*122.3, y=v=>1369-v*7.35;
  lassoCoefficients.forEach((s,i)=>{
    curve('lasso-coefficient-line',smoothPath(lassoKnots,s,x,y),palette[lassoColorIndex[i]],2.6,g);
  });
  mk('rect','lasso-path-frame',{x:1753,y:1117,width:608,height:404,fill:'none',stroke:'#000','stroke-width':1.6},g);
  ln('lasso-path-optimal-lambda',x(lassoOptimalLambda),1117,x(lassoOptimalLambda),1521,'#000',3,g,{'stroke-dasharray':'8 8'});
  lassoPathXTicks.forEach((v,i)=>{
    ln('lasso-path-x-tick',x(v),1521,x(v),1541,'#000',1.6,g);
    tx('lasso-path-x-label',x(v),1580,'−'+Math.abs(v),29,g,{anchor:'middle',sx:1.05});
    ln('lasso-path-top-tick',x(v),1113,x(v),1117,'#000',1.6,g);
    tx('lasso-path-top-label',x(v),1096,lassoPathTopLabels[i],26,g,{anchor:'middle',sx:1.1});
  });
  lassoPathYTicks.forEach(v=>{
    ln('lasso-path-y-tick',1736,y(v),1753,y(v),'#000',1.6,g);
    tx('lasso-path-y-label',1709,y(v),(v<0?'−':'')+Math.abs(v),28,g,{anchor:'middle',rot:-90});
  });
})();

/* ---------- LASSO CV deviance ---------- */
(function(){
  const g=document.getElementById('lassoCv');
  const x=v=>1806.7+(v+6)*122.6, y=v=>2031.6-(v-1.5)*175;
  cvLambda.forEach((l,i)=>{
    const hi=cvDeviance[i]+cvStdErr[i], lo=cvDeviance[i]-cvStdErr[i];
    ln('cv-error-bar',x(l),y(hi),x(l),y(lo),'#a9a9a9',1.5,g);
    ln('cv-error-cap-top',x(l)-5.5,y(hi),x(l)+5.5,y(hi),'#a9a9a9',1.5,g);
    ln('cv-error-cap-bottom',x(l)-5.5,y(lo),x(l)+5.5,y(lo),'#a9a9a9',1.5,g);
  });
  cvLambda.forEach((l,i)=>{
    mk('circle','cv-point',{cx:x(l),cy:y(cvDeviance[i]),r:5.2,fill:'#ff0000'},g);
  });
  mk('rect','lasso-cv-frame',{x:1757,y:1712,width:609,height:385,fill:'none',stroke:'#000','stroke-width':1.6},g);
  ln('lasso-cv-optimal-lambda',x(lassoOptimalLambda),1712,x(lassoOptimalLambda),2097,'#000',3,g,{'stroke-dasharray':'8 8'});
  cvXTicks.forEach(v=>{
    ln('lasso-cv-x-tick',x(v),2097,x(v),2117,'#000',1.6,g);
    tx('lasso-cv-x-label',x(v),2156,'−'+Math.abs(v),29,g,{anchor:'middle',sx:1.05});
  });
  cvTopLambda.forEach((v,i)=>{
    tx('lasso-cv-top-label',x(v),1691,cvTopLabels[i],26,g,{anchor:'middle',sx:1.1});
  });
  cvYTicks.forEach(v=>{
    ln('lasso-cv-y-tick',1740,y(v),1757,y(v),'#000',1.6,g);
    tx('lasso-cv-y-label',1707,y(v),v.toFixed(1),28,g,{anchor:'middle',rot:-90,sx:.95});
  });
})();

/* ---------- nomogram ---------- */
(function(){
  const g=document.getElementById('nomogram');
  const pts=v=>2715.5+v*5.675, tot=v=>2715.5+v*3.153, rad=v=>2715.5+(v+1)*162.1;
  const C='#333';
  ln('points-axis',pts(0),460,pts(100),460,C,2.4,g);
  nomoPointMinor.forEach(v=>{ln('points-minor-tick',pts(v),456,pts(v),460,C,1.2,g);});
  nomoPointTicks.forEach(v=>{
    ln('points-major-tick',pts(v),452,pts(v),460,C,1.4,g);
    tx('points-label',pts(v),446,String(v),17,g,{anchor:'middle',sx:.9});
  });
  const factorRows=[[514.6,522,508.6],[570,577,564],[625,632,619]];
  nomoFactorPoints.forEach((p,i)=>{
    const r=factorRows[i];
    ln('factor-axis',pts(0),r[0],pts(p),r[0],C,2,g);
    ln('factor-low-tick',pts(0),r[0],pts(0),r[1],C,1.4,g);
    ln('factor-high-tick',pts(p),r[0],pts(p),r[2],C,1.4,g);
  });
  ln('rad-score-axis',rad(-1),680,rad(2.5),680,C,2.4,g);
  nomoRadScores.forEach((v,i)=>{
    ln('rad-score-tick',rad(v),680,rad(v),687,C,1.4,g);
    tx('rad-score-label',rad(v),706,nomoRadLabels[i],17,g,{anchor:'middle',sx:.9});
  });
  ln('total-points-axis',tot(0),735.5,tot(180),735.5,C,2.2,g);
  nomoTotalMinor.forEach(v=>{ln('total-points-minor-tick',tot(v),735,tot(v),739,C,1.2,g);});
  nomoTotalTicks.forEach(v=>{
    ln('total-points-major-tick',tot(v),735,tot(v),742,C,1.4,g);
    tx('total-points-label',tot(v),762,String(v),17,g,{anchor:'middle',sx:.9});
  });
  ln('probability-axis',tot(nomoProbTotals[0]),790.7,tot(nomoProbTotals[6]),790.7,C,2,g);
  nomoProbTotals.forEach((v,i)=>{
    ln('probability-tick',tot(v),790,tot(v),797,C,1.4,g);
    tx('probability-label',tot(v),817,nomoProbLabels[i],17,g,{anchor:'middle',sx:.9});
  });
})();

/* ---------- calibration ---------- */
(function(){
  const main=document.getElementById('calMain'), ax=document.getElementById('calAxes');
  const x=v=>2640+v*624.4, y=v=>1496.6-v*490.6;
  const clip=mk('g','calibration-curves',{'clip-path':'url(#calClip)'},main);
  ln('calibration-ideal-diagonal',x(-.05),y(-.05),x(1.05),y(1.05),'#c8c8c8',4,clip,{'stroke-dasharray':'22 22'});
  curve('calibration-clinical-curve',smoothPath(calClinicalX,calClinicalY,x,y),'#00008b',4,clip);
  curve('calibration-rad-curve',smoothPath(calRadX,calRadY,x,y),'#0f8072',4,clip);
  curve('calibration-combined-curve',smoothPath(calCombinedX,calCombinedY,x,y),'#c8282f',4,clip);
  calTicks.forEach(v=>{
    ln('calibration-x-tick',x(v),1516,x(v),1526,'#333',1.6,ax);
    tx('calibration-x-label',x(v),1556,v.toFixed(1),24,ax,{anchor:'middle',sx:1.33,fill:'#222'});
    ln('calibration-y-tick',2603,y(v),2615,y(v),'#333',1.6,ax);
    tx('calibration-y-label',2581,y(v),v.toFixed(1),32,ax,{anchor:'middle',rot:-90,sx:.74,fill:'#222'});
  });
  const g=document.getElementById('rocInset');
  const rx=v=>2683.4+v*252, ry=v=>1231-v*217.6;
  ln('roc-reference-diagonal',rx(-.02),ry(-.02),rx(1.02),ry(1.02),'#c8c8c8',2,g,{'stroke-dasharray':'8 8'});
  const rc=mk('g','roc-curves',{'clip-path':'url(#insetClip)'},g);
  curve('roc-rad-curve',linePath(rocRadX,rocRadY,rx,ry),'#0f8072',1.8,rc);
  curve('roc-clinical-curve',linePath(rocClinicalX,rocClinicalY,rx,ry),'#00008b',1.8,rc);
  curve('roc-combined-curve',linePath(rocCombinedX,rocCombinedY,rx,ry),'#c8282f',1.8,rc);
  mk('rect','roc-frame',{x:2674,y:1005,width:271,height:233,fill:'none',stroke:'#555','stroke-width':1.2},g);
  rocTicks.forEach(v=>{
    ln('roc-x-tick',rx(v),1238,rx(v),1242,'#555',1,g);
    tx('roc-x-label',rx(v),1258,v.toFixed(1),14.5,g,{anchor:'middle',sx:.95});
    ln('roc-y-tick',2670,ry(v),2674,ry(v),'#555',1,g);
    tx('roc-y-label',2660,ry(v),v.toFixed(1),14.5,g,{anchor:'middle',rot:-90,sx:.85});
  });
  ln('roc-legend-combined-line',2725,1197,2750,1197,'#c8282f',1.8,g);
  ln('roc-legend-clinical-line',2725,1210.6,2750,1210.6,'#00008b',1.8,g);
  ln('roc-legend-rad-line',2725,1224.8,2750,1224.8,'#0f8072',1.8,g);
  const a=tx('roc-legend-combined',2761.5,1201,'Combined model   AUC=0.848',14.5,g);
  a.setAttribute('textLength','181');
  a.setAttribute('lengthAdjust','spacingAndGlyphs');
  const b=tx('roc-legend-clinical',2761.5,1215,'Clinical model   AUC=0.779',14.5,g);
  b.setAttribute('textLength','164');
  b.setAttribute('lengthAdjust','spacingAndGlyphs');
  const c=tx('roc-legend-rad-score',2761.5,1229,'Rad−score  AUC=0.793',14.5,g);
  c.setAttribute('textLength','141');
  c.setAttribute('lengthAdjust','spacingAndGlyphs');
})();

/* ---------- DCA ---------- */
(function(){
  const g=document.getElementById('dca');
  const x=v=>2623.7+v*652, y=v=>2083.7-v*379.5;
  const clip=mk('g','dca-curves',{'clip-path':'url(#dcaClip)'},g);
  curve('dca-all-curve',smoothPath(dcaAllX,dcaAllY,x,y),'#a9a9a9',4,clip);
  ln('dca-none-line',x(0),y(0),x(.995),y(0),'#000',4.6,clip);
  curve('dca-combined-curve',linePath(dcaCombinedX,dcaCombinedY,x,y),'#c22a33',3.8,clip);
  curve('dca-clinical-curve',linePath(dcaClinicalX,dcaClinicalY,x,y),'#00008b',3.8,clip);
  curve('dca-rad-curve',linePath(dcaRadX,dcaRadY,x,y),'#0f8072',3.8,clip);
  ln('dca-x-axis',x(0),2118,x(1),2118,'#222',1.6,g);
  ln('dca-y-axis',2598,y(0),2598,y(1),'#222',1.6,g);
  dcaXTicks.forEach(v=>{
    ln('dca-x-tick',x(v),2118,x(v),2131,'#222',1.6,g);
    tx('dca-x-label',x(v),2152,v.toFixed(1),21,g,{anchor:'middle',sx:1.15});
  });
  dcaYTicks.forEach(v=>{
    ln('dca-y-tick',2581,y(v),2598,y(v),'#222',1.6,g);
    tx('dca-y-label',2575,y(v),v.toFixed(1),24,g,{anchor:'middle',rot:-90,sx:.82});
  });
})();

/* ---------- forest ---------- */
(function(){
  const g=document.getElementById('forest');
  const x=v=>4080.4+Math.log(v)*23.46, rowY=i=>495+33.1*i;
  subgroupLabels.forEach((lab,i)=>{
    const header=subgroupCounts[i]===''||i===0;
    const by=rowY(i);
    tx('subgroup-label',header?3387:3398,by+1,lab,25,g,{weight:header?700:null,sx:header?.9:.85,fill:header?'#000':'#222'});
    if(subgroupCounts[i]!==''){
      tx('subgroup-patient-count',3683.5,by,subgroupCounts[i],25,g,{anchor:'end',sx:.82,weight:i===0?700:null,fill:i===0?'#000':'#222'});
    }
    if(subgroupOrText[i]==='NA'){
      tx('subgroup-or-text',3817,by,'NA',25,g,{anchor:'middle',sx:.85,fill:'#222'});
      tx('subgroup-p-text',3982,by,'NA',25,g,{anchor:'middle',sx:.85,fill:'#222'});
    }else if(subgroupOrText[i]!==''){
      tx('subgroup-or-text',3907,by,subgroupOrText[i],25,g,{anchor:'end',sx:i===0?.87:.8,weight:i===0?700:null,fill:i===0?'#000':'#222'});
      tx('subgroup-p-text',4024.5,by,subgroupPText[i],25,g,{anchor:'end',sx:i===0?.87:.82,weight:i===0?700:null,fill:i===0?'#000':'#222'});
    }
    if(subgroupOr[i]!==null){
      const cy=by-9, cx=x(subgroupOr[i]);
      if(i===0){
        mk('polygon','overall-or-diamond',{points:(cx-14)+','+cy+' '+cx+','+(cy-5.5)+' '+(cx+14)+','+cy+' '+cx+','+(cy+5.5),fill:'#ff0000'},g);
      }else{
        ln('subgroup-ci-line',x(subgroupLow[i]),cy,x(subgroupHigh[i]),cy,'#000',2,g);
        ln('subgroup-ci-low-cap',x(subgroupLow[i]),cy-4.5,x(subgroupLow[i]),cy+4.5,'#000',2,g);
        ln('subgroup-ci-high-cap',x(subgroupHigh[i]),cy-4.5,x(subgroupHigh[i]),cy+4.5,'#000',2,g);
        mk('rect','subgroup-or-marker',{x:cx-6,y:cy-6,width:12,height:12,fill:'#000'},g);
      }
    }
  });
  ln('forest-reference-axis',4080.4,468,4080.4,2124.5,'#000',2.4,g);
  ln('forest-x-axis',4080.4,2124.5,x(148.4),2124.5,'#000',2.4,g);
  forestTicks.forEach((v,i)=>{
    if(i!==1){ln('forest-x-tick',x(v),2124.5,x(v),2133,'#000',2,g);}
    tx('forest-x-label',[4084,4139.6,4203][i],2158.5,forestTickLabels[i],20,g,{anchor:'middle',sx:.85,fill:'#222'});
  });
})();
</script>
</body>
</html>
